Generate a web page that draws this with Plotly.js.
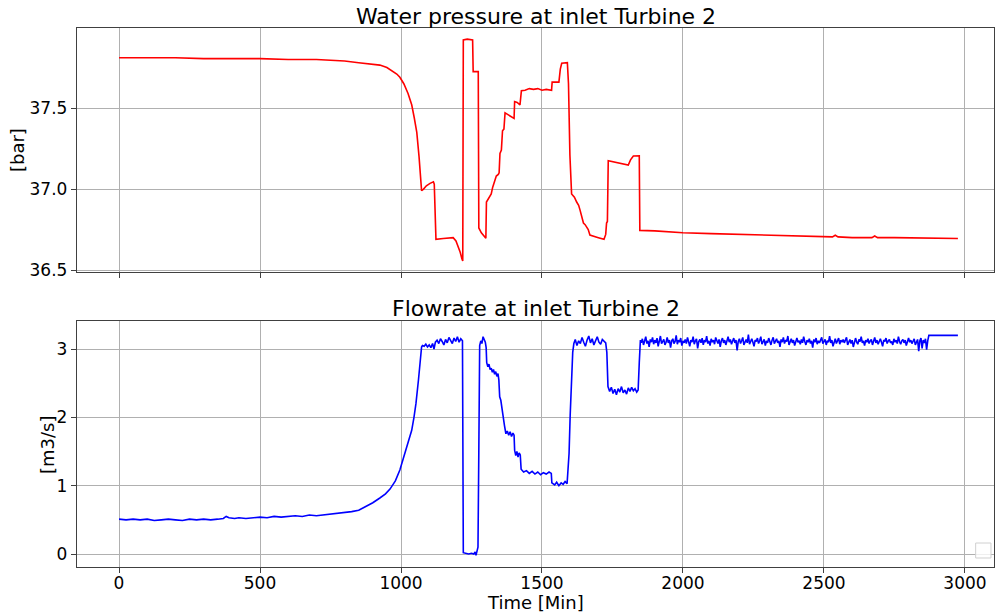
<!DOCTYPE html>
<html>
<head>
<meta charset="utf-8">
<script src="https://cdn.plot.ly/plotly-3.0.1.min.js"></script>
<style>html,body{margin:0;padding:0;background:#fff;}#chart{width:995px;height:615px;}</style>
</head>
<body>
<div id="chart"></div>
<script>
// Water pressure at inlet Turbine 2 [bar]
const pressureTime = [0, 100, 200, 300, 400, 500, 600, 700, 750, 800, 850, 880, 900, 925, 950, 970, 985, 996, 1010, 1025, 1038, 1047, 1056, 1064, 1073, 1080, 1090, 1103, 1115, 1118, 1121, 1124, 1150, 1170, 1185, 1195, 1203, 1210, 1216, 1219, 1221, 1235, 1254, 1256, 1274, 1276, 1285, 1295, 1301, 1303, 1310, 1316, 1320, 1325, 1329, 1333, 1338, 1345, 1348, 1351, 1356, 1360, 1365, 1369, 1385, 1401, 1403, 1412, 1422, 1427, 1440, 1455, 1470, 1485, 1500, 1515, 1534, 1536, 1560, 1565, 1570, 1590, 1594, 1599, 1605, 1615, 1623, 1630, 1635, 1641, 1647, 1653, 1664, 1670, 1685, 1700, 1720, 1726, 1729, 1732, 1735, 1760, 1785, 1806, 1814, 1824, 1845, 1847, 1900, 2000, 2100, 2200, 2300, 2400, 2500, 2530, 2540, 2550, 2600, 2670, 2680, 2690, 2750, 2800, 2900, 2975];
const pressureValue = [37.81, 37.81, 37.81, 37.805, 37.805, 37.805, 37.80, 37.80, 37.795, 37.79, 37.78, 37.775, 37.77, 37.765, 37.75, 37.73, 37.71, 37.69, 37.65, 37.59, 37.52, 37.44, 37.35, 37.20, 36.99, 37.00, 37.02, 37.035, 37.045, 37.03, 36.80, 36.69, 36.695, 36.70, 36.70, 36.68, 36.645, 36.61, 36.57, 36.556, 37.92, 37.925, 37.92, 37.725, 37.725, 36.76, 36.73, 36.71, 36.696, 36.92, 36.94, 36.95, 36.97, 37.01, 37.03, 37.05, 37.08, 37.09, 37.10, 37.22, 37.24, 37.36, 37.37, 37.47, 37.455, 37.436, 37.54, 37.535, 37.52, 37.607, 37.61, 37.62, 37.615, 37.62, 37.61, 37.615, 37.61, 37.66, 37.66, 37.74, 37.776, 37.78, 37.65, 37.21, 36.97, 36.95, 36.92, 36.90, 36.87, 36.83, 36.79, 36.78, 36.75, 36.716, 36.71, 36.70, 36.69, 36.72, 36.79, 36.80, 37.175, 37.165, 37.158, 37.148, 37.18, 37.204, 37.205, 36.745, 36.742, 36.73, 36.725, 36.72, 36.715, 36.71, 36.705, 36.705, 36.715, 36.705, 36.70, 36.70, 36.71, 36.70, 36.70, 36.698, 36.695, 36.695];

// Flowrate at inlet Turbine 2 [m3/s]
const flowTime = [0, 25, 50, 75, 100, 125, 150, 175, 200, 225, 250, 275, 300, 325, 350, 370, 380, 390, 410, 425, 450, 475, 500, 525, 550, 575, 600, 625, 650, 675, 700, 725, 750, 775, 800, 825, 850, 875, 900, 925, 945, 961, 980, 996, 1010, 1025, 1038, 1046, 1053, 1062, 1068, 1073,
 1076, 1082, 1088, 1094, 1100, 1106, 1112, 1117, 1122, 1128, 1134, 1140, 1146, 1152, 1158, 1164, 1170, 1176, 1182, 1188, 1194, 1200, 1206, 1212, 1218,
 1221, 1230, 1240, 1250, 1258, 1263, 1266, 1270, 1273, 1276, 1279, 1283, 1287, 1291, 1295, 1299, 1302,
 1304, 1308, 1312, 1316, 1320, 1324, 1328, 1332, 1336, 1340, 1344, 1347, 1350, 1354, 1358, 1363, 1367, 1372, 1377, 1382, 1387, 1392, 1397, 1401,
 1403, 1407, 1411, 1415, 1419, 1423, 1426, 1435, 1445, 1455, 1465, 1475, 1485, 1495, 1505, 1515, 1525, 1533,
 1535, 1545, 1552, 1560, 1568, 1575, 1582, 1589, 1592, 1596, 1600, 1605, 1609, 1613,
 1618, 1624, 1630, 1636, 1642, 1648, 1654, 1660, 1666, 1672, 1678, 1684, 1690, 1696, 1702, 1708, 1714, 1720, 1726, 1730,
 1734, 1740, 1746, 1752, 1758, 1764, 1770, 1776, 1782, 1788, 1794, 1800, 1806, 1812, 1818, 1824, 1830, 1836, 1841, 1845, 1849,
 1852, 1856, 1860, 1864, 1868, 1872, 1876, 1880, 1884, 1888, 1892, 1896, 1900, 1904, 1908, 1912, 1916, 1920, 1924, 1928,
 1932, 1936, 1940, 1944, 1948, 1952, 1956, 1960, 1964, 1968, 1972, 1976, 1980, 1984, 1988, 1992, 1996, 2000, 2004, 2008,
 2012, 2016, 2020, 2024, 2028, 2032, 2036, 2040, 2044, 2048, 2052, 2056, 2060, 2064, 2068, 2072, 2076, 2080, 2084, 2088,
 2092, 2096, 2100, 2104, 2108, 2112, 2116, 2120, 2124, 2128, 2132, 2136, 2140, 2144, 2148, 2152, 2156, 2160, 2164, 2168,
 2172, 2176, 2180, 2184, 2188, 2192, 2196, 2200, 2204, 2208, 2212, 2216, 2220, 2224, 2228, 2232, 2236, 2240, 2244, 2248,
 2252, 2256, 2260, 2264, 2268, 2272, 2276, 2280, 2284, 2288, 2292, 2296, 2300, 2304, 2308, 2312, 2316, 2320, 2324, 2328,
 2332, 2336, 2340, 2344, 2348, 2352, 2356, 2360, 2364, 2368, 2372, 2376, 2380, 2384, 2388, 2392, 2396, 2400, 2404, 2408,
 2412, 2416, 2420, 2424, 2428, 2432, 2436, 2440, 2444, 2448, 2452, 2456, 2460, 2464, 2468, 2472, 2476, 2480, 2484, 2488,
 2492, 2496, 2500, 2504, 2508, 2512, 2516, 2520, 2524, 2528, 2532, 2536, 2540, 2544, 2548, 2552, 2556, 2560, 2564, 2568,
 2572, 2576, 2580, 2584, 2588, 2592, 2596, 2600, 2604, 2608, 2612, 2616, 2620, 2624, 2628, 2632, 2636, 2640, 2644, 2648,
 2652, 2656, 2660, 2664, 2668, 2672, 2676, 2680, 2684, 2688, 2692, 2696, 2700, 2704, 2708, 2712, 2716, 2720, 2724, 2728,
 2732, 2736, 2740, 2744, 2748, 2752, 2756, 2760, 2764, 2768, 2772, 2776, 2780, 2784, 2788, 2792, 2796, 2800, 2804, 2808,
 2812, 2816, 2820, 2824, 2828, 2832, 2836, 2840, 2844, 2848, 2852, 2856, 2860, 2864, 2868,
 2872, 2975];
const flowValue = [0.51, 0.50, 0.51, 0.50, 0.51, 0.49, 0.50, 0.51, 0.50, 0.49, 0.51, 0.50, 0.51, 0.50, 0.51, 0.52, 0.55, 0.53, 0.52, 0.53, 0.52, 0.53, 0.54, 0.53, 0.55, 0.54, 0.55, 0.56, 0.55, 0.57, 0.56, 0.57, 0.58, 0.59, 0.60, 0.62, 0.64, 0.69, 0.75, 0.82, 0.88, 0.95, 1.07, 1.23, 1.42, 1.62, 1.81, 2.00, 2.20, 2.55, 2.85, 3.03,
 3.05, 3.04, 3.07, 3.03, 3.06, 3.02, 3.08, 3.00, 3.10, 3.13, 3.08, 3.15, 3.11, 3.06, 3.14, 3.09, 3.17, 3.12, 3.08, 3.16, 3.11, 3.18, 3.10, 3.15, 3.12,
 0.02, 0.01, 0.00, 0.01, 0.00, 0.03, -0.02, 0.05, 0.10, 1.50, 3.05, 3.12, 3.08, 3.18, 3.13, 3.10, 3.02,
 2.80, 2.74, 2.78, 2.70, 2.72, 2.66, 2.70, 2.63, 2.67, 2.60, 2.64, 2.55, 2.30, 2.25, 2.12, 2.01, 1.88, 1.76, 1.80, 1.74, 1.79, 1.72, 1.77, 1.74,
 1.52, 1.44, 1.50, 1.42, 1.48, 1.45, 1.24, 1.20, 1.22, 1.18, 1.21, 1.17, 1.20, 1.16, 1.19, 1.17, 1.20, 1.18,
 1.04, 1.01, 1.05, 1.00, 1.04, 1.02, 1.06, 1.03, 1.20, 1.47, 2.03, 2.64, 2.95, 3.08,
 3.14, 3.05, 3.12, 3.08, 3.17, 3.10, 3.04, 3.13, 3.19, 3.09, 3.15, 3.06, 3.12, 3.18, 3.10, 3.07, 3.14, 3.11, 3.09, 2.95,
 2.45, 2.38, 2.44, 2.35, 2.41, 2.33, 2.42, 2.37, 2.45, 2.36, 2.40, 2.34, 2.43, 2.38, 2.44, 2.39, 2.42, 2.37, 2.40, 2.80, 3.13,
 3.09, 3.15, 3.06, 3.13, 3.18, 3.08, 3.12, 3.03, 3.14, 3.10, 3.17, 3.07, 3.13, 3.09, 3.16, 3.04, 3.12, 3.19, 3.08, 3.11,
 3.14, 3.06, 3.10, 3.17, 3.09, 3.13, 3.02, 3.12, 3.15, 3.08, 3.11, 3.20, 3.07, 3.13, 3.10, 3.16, 3.05, 3.12, 3.09, 3.14,
 3.08, 3.17, 3.11, 3.04, 3.13, 3.10, 3.18, 3.07, 3.12, 3.15, 3.01, 3.11, 3.14, 3.09, 3.16, 3.06, 3.13, 3.10, 3.19, 3.08,
 3.12, 3.05, 3.15, 3.10, 3.13, 3.07, 3.17, 3.11, 3.08, 3.14, 3.03, 3.12, 3.16, 3.09, 3.13, 3.06, 3.11, 3.18, 3.10, 3.14,
 3.07, 3.12, 3.16, 3.09, 3.13, 2.98, 3.11, 3.15, 3.08, 3.12, 3.17, 3.06, 3.10, 3.14, 3.09, 3.21, 3.07, 3.12, 3.15, 3.10,
 3.04, 3.13, 3.11, 3.16, 3.08, 3.12, 3.18, 3.07, 3.10, 3.14, 3.05, 3.12, 3.09, 3.16, 3.11, 3.06, 3.13, 3.17, 3.08, 3.11,
 3.15, 3.09, 3.12, 3.03, 3.14, 3.10, 3.17, 3.08, 3.13, 3.11, 3.19, 3.06, 3.12, 3.15, 3.09, 3.13, 3.05, 3.11, 3.16, 3.10,
 3.12, 3.07, 3.14, 3.09, 3.18, 3.11, 3.06, 3.13, 3.10, 3.15, 3.08, 3.12, 3.02, 3.14, 3.10, 3.16, 3.07, 3.12, 3.09, 3.13,
 3.17, 3.08, 3.11, 3.14, 3.06, 3.12, 3.10, 3.19, 3.09, 3.13, 3.04, 3.12, 3.15, 3.08, 3.11, 3.16, 3.07, 3.13, 3.10, 3.14,
 3.09, 3.12, 3.17, 3.06, 3.11, 3.14, 3.08, 3.13, 3.03, 3.12, 3.16, 3.10, 3.07, 3.14, 3.11, 3.18, 3.09, 3.12, 3.05, 3.13,
 3.10, 3.15, 3.08, 3.12, 3.14, 3.06, 3.11, 3.17, 3.09, 3.13, 3.07, 3.12, 3.15, 3.10, 3.04, 3.13, 3.11, 3.16, 3.08, 3.12,
 3.14, 3.09, 3.11, 3.06, 3.15, 3.10, 3.13, 3.08, 3.18, 3.11, 3.07, 3.12, 3.14, 3.09, 3.13, 3.05, 3.12, 3.16, 3.10, 3.13,
 3.08, 3.12, 3.15, 3.06, 3.11, 3.14, 2.97, 3.12, 3.16, 3.01, 3.13, 3.09, 3.15, 2.99, 3.12,
 3.20, 3.20];

const topTitle = "Water pressure at inlet Turbine 2";
const bottomTitle = "Flowrate at inlet Turbine 2";
const xTitle = "Time [Min]";
const topYTitle = "[bar]";
const bottomYTitle = "[m3/s]";
const xTicks = [0, 500, 1000, 1500, 2000, 2500, 3000];
const topYTicks = [36.5, 37.0, 37.5];
const bottomYTicks = [0, 1, 2, 3];

const FONT = "DejaVu Sans, sans-serif";
const axisCommon = {
  showline: true, mirror: true, linecolor: "#404040", linewidth: 1.2,
  showgrid: true, gridcolor: "#b0b0b0", gridwidth: 1,
  ticks: "outside", ticklen: 5, tickwidth: 1, tickcolor: "#404040",
  zeroline: false,
  tickfont: {family: FONT, size: 17, color: "#000"}
};

const traces = [
  {x: pressureTime, y: pressureValue, type: "scatter", mode: "lines",
   line: {color: "#ff0000", width: 1.6}, xaxis: "x", yaxis: "y", showlegend: false},
  {x: flowTime, y: flowValue, type: "scatter", mode: "lines",
   line: {color: "#0000ff", width: 1.6}, xaxis: "x2", yaxis: "y2", showlegend: false}
];

const layout = {
  width: 995, height: 615,
  margin: {l: 77, r: 1, t: 28, b: 48},
  paper_bgcolor: "#fff", plot_bgcolor: "#fff",
  font: {family: FONT, size: 17, color: "#000"},
  showlegend: false,
  xaxis: Object.assign({}, axisCommon, {domain: [0, 1], range: [-149, 3103], tickvals: xTicks, showticklabels: false, anchor: "y"}),
  yaxis: Object.assign({}, axisCommon, {domain: [0.5473, 1], range: [36.488, 37.994], tickvals: topYTicks, tickformat: ".1f", anchor: "x"}),
  xaxis2: Object.assign({}, axisCommon, {domain: [0, 1], range: [-149, 3103], tickvals: xTicks, anchor: "y2", ticklabelstandoff: -5}),
  yaxis2: Object.assign({}, axisCommon, {domain: [0, 0.4564], range: [-0.19, 3.41], tickvals: bottomYTicks, anchor: "x2"}),
  annotations: [
    {text: topTitle, xref: "paper", yref: "paper", x: 0.5, y: 1.022, xanchor: "center", yanchor: "middle",
     showarrow: false, font: {family: FONT, size: 22, color: "#000"}},
    {text: bottomTitle, xref: "paper", yref: "paper", x: 0.5, y: 0.4787, xanchor: "center", yanchor: "middle",
     showarrow: false, font: {family: FONT, size: 22, color: "#000"}},
    {text: xTitle, xref: "paper", yref: "paper", x: 0.5, y: -0.065, xanchor: "center", yanchor: "middle",
     showarrow: false, font: {family: FONT, size: 18, color: "#000"}},
    {text: topYTitle, xref: "paper", yref: "paper", x: -0.0643, y: 0.7737, xanchor: "center", yanchor: "middle",
     textangle: -90, showarrow: false, font: {family: FONT, size: 18, color: "#000"}},
    {text: bottomYTitle, xref: "paper", yref: "paper", x: -0.0327, y: 0.2263, xanchor: "center", yanchor: "middle",
     textangle: -90, showarrow: false, font: {family: FONT, size: 18, color: "#000"}}
  ],
  shapes: [
    {type: "rect", xref: "paper", yref: "paper", x0: 0.980, x1: 0.9967, y0: 0.0167, y1: 0.0445,
     line: {color: "#d0d0d0", width: 1}, fillcolor: "rgba(255,255,255,0.8)", layer: "above"}
  ]
};

Plotly.newPlot("chart", traces, layout, {displayModeBar: false, staticPlot: true});
</script>
</body>
</html>
